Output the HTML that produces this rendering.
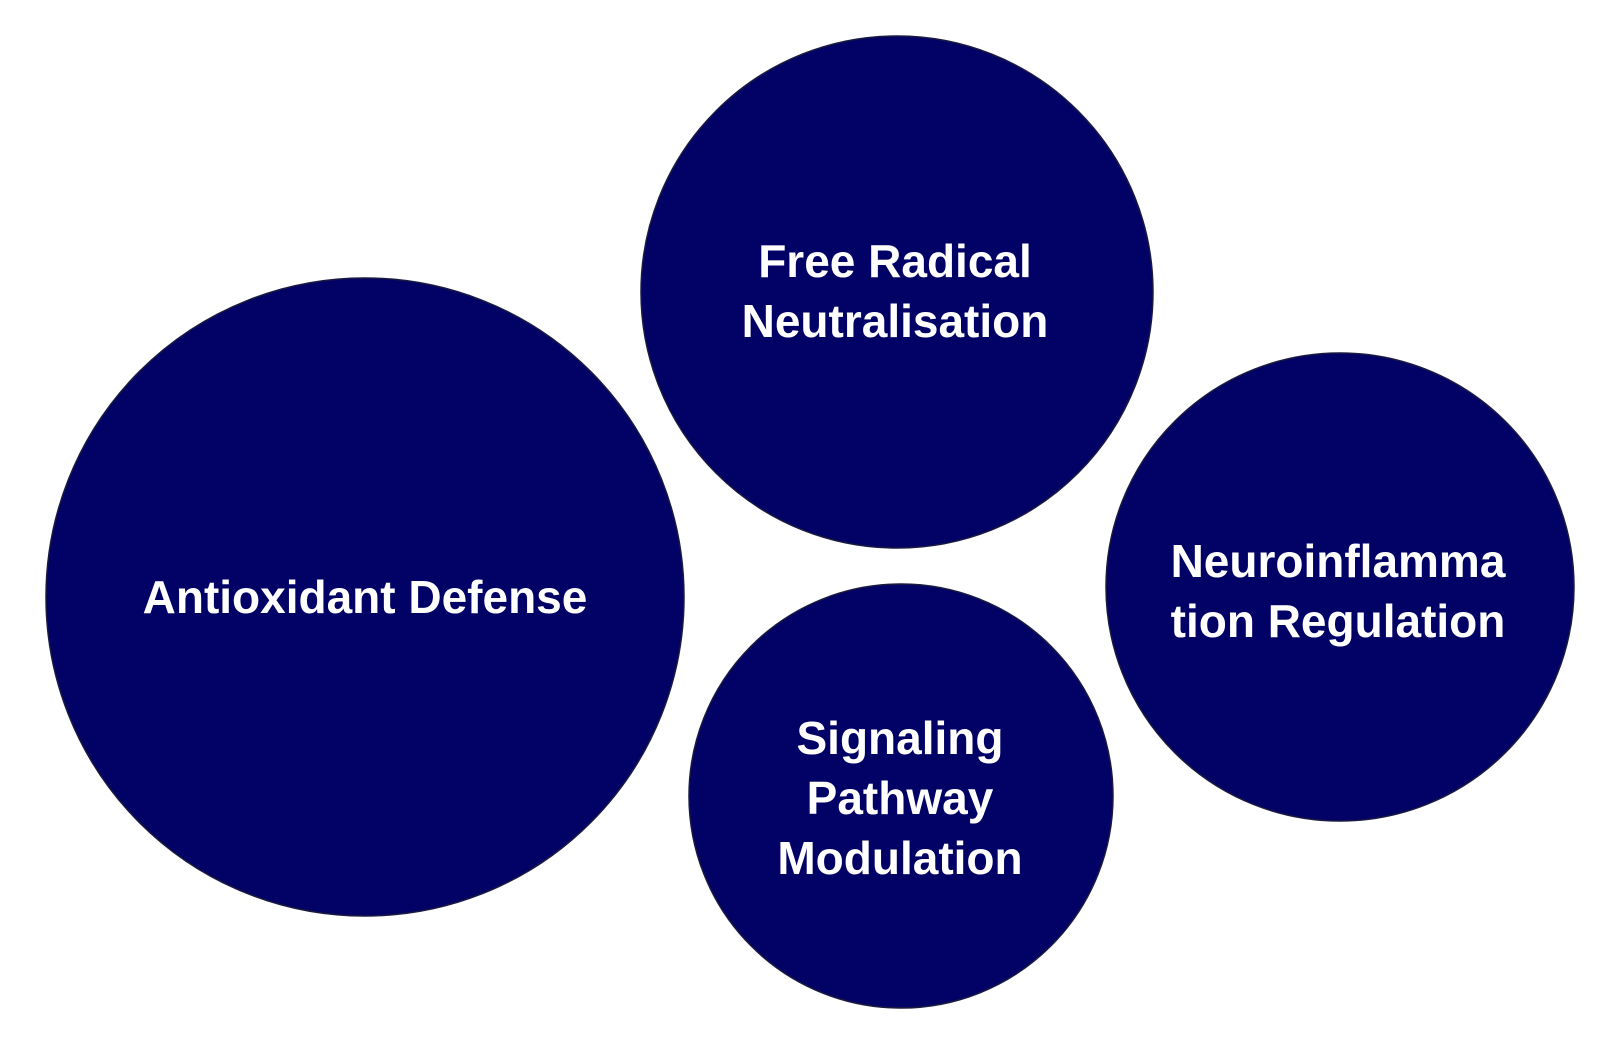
<!DOCTYPE html>
<html><head><meta charset="utf-8"><style>
html,body{margin:0;padding:0;background:#fff;width:1622px;height:1048px;overflow:hidden}
svg text{font-family:"Liberation Sans",sans-serif;font-weight:bold;font-size:46px;fill:#fff;text-anchor:middle}
</style></head><body>
<svg width="1622" height="1048" viewBox="0 0 1622 1048">
<g fill="#020266" stroke="#1a1a40" stroke-width="1.5">
<circle cx="365" cy="597" r="319"/>
<circle cx="897" cy="292" r="256"/>
<circle cx="1340" cy="587" r="234"/>
<circle cx="901" cy="796" r="212"/>
</g>
<text x="365" y="613">Antioxidant Defense</text>
<text x="895" y="277">Free Radical</text>
<text x="895" y="337">Neutralisation</text>
<text x="1338" y="577">Neuroinflamma</text>
<text x="1338" y="637">tion Regulation</text>
<text x="900" y="754">Signaling</text>
<text x="900" y="814">Pathway</text>
<text x="900" y="874">Modulation</text>
</svg>
</body></html>
